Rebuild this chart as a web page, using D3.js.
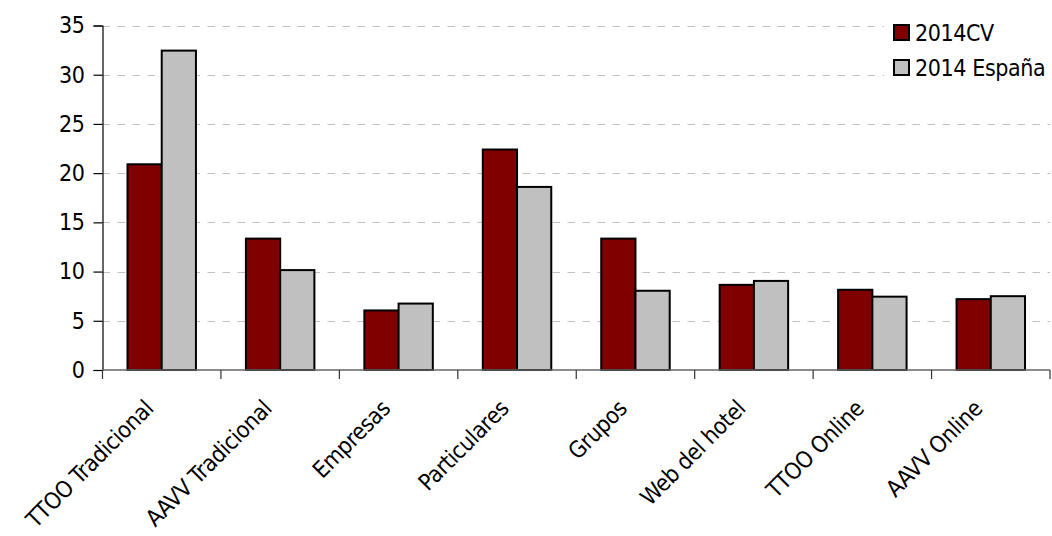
<!DOCTYPE html>
<html><head><meta charset="utf-8">
<script src="https://cdn.jsdelivr.net/npm/d3@7"></script>
<style>
html,body{margin:0;padding:0;background:#fff;}
text{font-family:"DejaVu Sans Condensed","DejaVu Sans",sans-serif;font-stretch:condensed;letter-spacing:-0.4px;}
</style></head>
<body><svg id="c" width="1052" height="536"></svg>
<script>
const categories = ["TTOO Tradicional","AAVV Tradicional","Empresas","Particulares","Grupos","Web del hotel","TTOO Online","AAVV Online"];
const seriesNames = ["2014CV","2014 España"];
const valuesCV = [20.9, 13.35, 6.05, 22.4, 13.35, 8.65, 8.15, 7.2];
const valuesES = [32.45, 10.15, 6.75, 18.6, 8.05, 9.05, 7.45, 7.5];
const yTicks = [0,5,10,15,20,25,30,35];
const colors = ["#800000","#c0c0c0"];

const svg = d3.select("#c");
const pLeft = 102.5, pRight = 1050, pTop = 25.5, pBottom = 370;
const x = d3.scaleBand().domain(categories).range([pLeft, pRight]).paddingInner(0).paddingOuter(0);
const y = d3.scaleLinear().domain([0,35]).range([pBottom, pTop]);
const xs = d3.scaleBand().domain(seriesNames).range([0, x.bandwidth()]).paddingInner(0).paddingOuter(0.73);
const fontSize = 23;

// grid
svg.append("g").selectAll("line").data(yTicks.filter(d=>d>0)).join("line")
  .attr("x1", pLeft).attr("x2", pRight)
  .attr("y1", d=>Math.round(y(d))+0.5).attr("y2", d=>Math.round(y(d))+0.5)
  .attr("stroke","#c0c0c0").attr("stroke-width",1.2).attr("stroke-dasharray","7.5,7.5");

// bars
const data = [];
categories.forEach((c,i)=>{
  data.push({c, s:seriesNames[0], v:valuesCV[i], k:0});
  data.push({c, s:seriesNames[1], v:valuesES[i], k:1});
});
svg.append("g").selectAll("rect").data(data).join("rect")
  .attr("x", d=>x(d.c)+xs(d.s))
  .attr("width", xs.bandwidth())
  .attr("y", d=>y(d.v))
  .attr("height", d=>y(0)-y(d.v))
  .attr("fill", d=>colors[d.k])
  .attr("stroke","#000").attr("stroke-width",2);

// y axis
const ya = svg.append("g").attr("transform",`translate(${pLeft},0)`)
  .call(d3.axisLeft(y).tickValues(yTicks).tickSize(9).tickPadding(9));
ya.select(".domain").attr("stroke","#000").attr("stroke-width",1.2);
ya.selectAll(".tick line").attr("stroke","#000").attr("stroke-width",1.2);
ya.selectAll("text").attr("font-size",fontSize).attr("fill","#000").attr("font-family",null);

// x axis
const xa = svg.append("g").attr("transform",`translate(0,${pBottom})`);
xa.append("line").attr("x1",pLeft).attr("x2",pRight).attr("y1",0).attr("y2",0).attr("stroke","#666").attr("stroke-width",1.5);
const bounds = categories.map(c=>x(c)).concat([pRight]);
xa.selectAll("line.t").data(bounds).join("line").attr("class","t")
  .attr("x1",d=>d).attr("x2",d=>d).attr("y1",0).attr("y2",9)
  .attr("stroke","#333").attr("stroke-width",1.2);
xa.selectAll("text").data(categories).join("text")
  .attr("transform", d=>`translate(${x(d)+x.bandwidth()/2-7},${40}) rotate(-45)`)
  .attr("text-anchor","end")
  .attr("font-size",fontSize).attr("fill","#000")
  .text(d=>d);

// legend
const lg = svg.append("g");
lg.append("rect").attr("x",884).attr("y",14).attr("width",168).attr("height",72).attr("fill","#fff");
seriesNames.forEach((s,i)=>{
  const yy = 25 + i*35;
  lg.append("rect").attr("x",894).attr("y",yy).attr("width",15).attr("height",15)
    .attr("fill",colors[i]).attr("stroke","#000").attr("stroke-width",2);
  lg.append("text").attr("x",915).attr("y",yy+8).attr("dy","0.36em")
    .attr("font-size",fontSize).attr("fill","#000").text(s);
});
</script></body></html>
